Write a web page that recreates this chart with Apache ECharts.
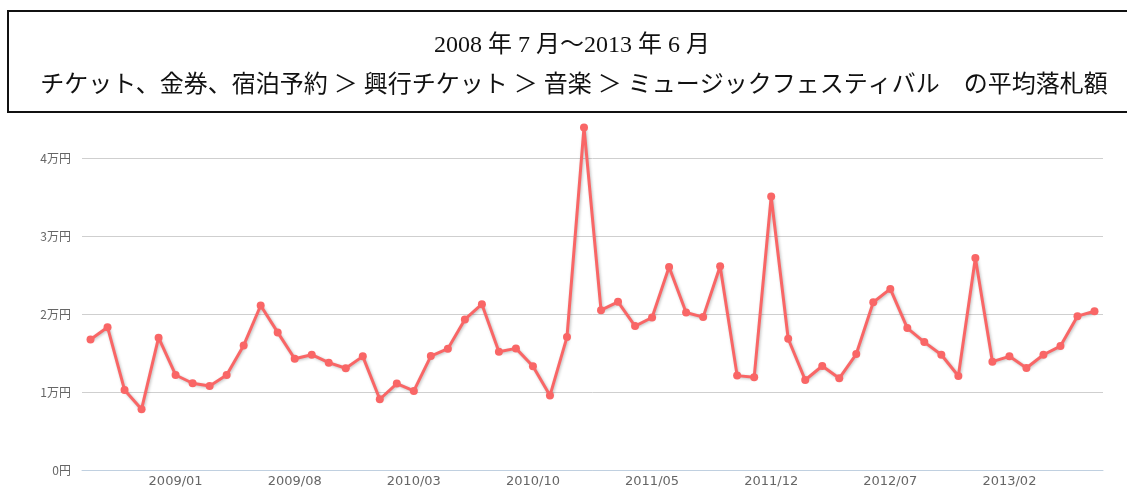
<!DOCTYPE html>
<html>
<head>
<meta charset="utf-8">
<script src="https://cdn.jsdelivr.net/npm/echarts@6/dist/echarts.min.js"></script>
<style>
  html, body { margin: 0; padding: 0; background: #fff; }
  #chart { width: 1127px; height: 488px; }
</style>
</head>
<body>
<div id="chart"></div>
<script>
// months on the x axis
var months = [
  "2008/08", "2008/09", "2008/10", "2008/11", "2008/12",
  "2009/01", "2009/02", "2009/03", "2009/04", "2009/05", "2009/06", "2009/07",
  "2009/08", "2009/09", "2009/10", "2009/11", "2009/12",
  "2010/01", "2010/02", "2010/03", "2010/04", "2010/05", "2010/06", "2010/07",
  "2010/08", "2010/09", "2010/10", "2010/11", "2010/12",
  "2011/01", "2011/02", "2011/03", "2011/04", "2011/05", "2011/06", "2011/07",
  "2011/08", "2011/09", "2011/10", "2011/11", "2011/12",
  "2012/01", "2012/02", "2012/03", "2012/04", "2012/05", "2012/06", "2012/07",
  "2012/08", "2012/09", "2012/10", "2012/11", "2012/12",
  "2013/01", "2013/02", "2013/03", "2013/04", "2013/05", "2013/06", "2013/07"
];

// average winning bid (yen)
var avgPrice = [
  16740, 18310, 10260, 7800, 16960, 12180, 11120, 10780, 12180, 15970,
  21090, 17640, 14270, 14780, 13760, 13040, 14570, 9070, 11080, 10140,
  14610, 15550, 19300, 21260, 15160, 15590, 13290, 9540, 17040, 43920,
  20490, 21560, 18450, 19550, 26030, 20190, 19600, 26110, 12100, 11880,
  35050, 16830, 11540, 13330, 11760, 14860, 21510, 23220, 18190, 16400,
  14780, 12050, 27180, 13890, 14570, 13070, 14780, 15890, 19720, 20360
];

var titleLine1 = "2008 年 7 月～2013 年 6 月";
var titleLine2 = "チケット、金券、宿泊予約 ＞ 興行チケット ＞ 音楽 ＞ ミュージックフェスティバル　の平均落札額";

var chart = echarts.init(document.getElementById("chart"));

var option = {
  backgroundColor: "#fff",
  animation: false,
  graphic: [
    {
      type: "rect",
      shape: { x: 8, y: 11, width: 1130, height: 101 },
      style: { fill: "#fff", stroke: "#111", lineWidth: 2 }
    },
    {
      type: "text",
      x: 572, y: 46,
      style: {
        text: titleLine1,
        font: '24px "Liberation Serif", "Noto Sans CJK JP", serif',
        fill: "#111", align: "center", verticalAlign: "middle"
      }
    },
    {
      type: "text",
      x: 574, y: 86,
      style: {
        text: titleLine2,
        font: '24px "Liberation Serif", "Noto Sans CJK JP", serif',
        fill: "#111", align: "center", verticalAlign: "middle"
      }
    }
  ],
  grid: {
    left: 82,
    right: 24,
    top: 158,
    bottom: 17
  },
  xAxis: {
    type: "category",
    data: months,
    boundaryGap: true,
    axisLine: { lineStyle: { color: "#c0d0e0", width: 1 } },
    axisTick: {
      inside: true,
      length: 6,
      alignWithLabel: true,
      interval: function (i) { return i % 7 === 5; },
      lineStyle: { color: "#c0d0e0" }
    },
    axisLabel: {
      interval: function (i) { return i % 7 === 5; },
      color: "#666",
      fontSize: 13,
      margin: 5,
      fontFamily: "Verdana, 'DejaVu Sans', sans-serif"
    },
    splitLine: { show: false }
  },
  yAxis: {
    type: "value",
    min: 0,
    max: 40000,
    interval: 10000,
    axisLine: { show: false },
    axisTick: { show: false },
    axisLabel: {
      color: "#666",
      fontSize: 12,
      margin: 11,
      fontFamily: "'Noto Sans CJK JP', sans-serif",
      formatter: function (v) { return v === 0 ? "0円" : (v / 10000) + "万円"; }
    },
    splitLine: { lineStyle: { color: "#cfcfcf", width: 1 } }
  },
  series: [
    {
      name: "平均落札額",
      type: "line",
      data: avgPrice,
      clip: false,
      symbol: "circle",
      symbolSize: 8,
      itemStyle: { color: "#f96666" },
      lineStyle: {
        color: "#f96666",
        width: 3,
        shadowColor: "rgba(0,0,0,0.25)",
        shadowBlur: 3,
        shadowOffsetX: 1,
        shadowOffsetY: 1
      }
    }
  ]
};

chart.setOption(option);
</script>
</body>
</html>
